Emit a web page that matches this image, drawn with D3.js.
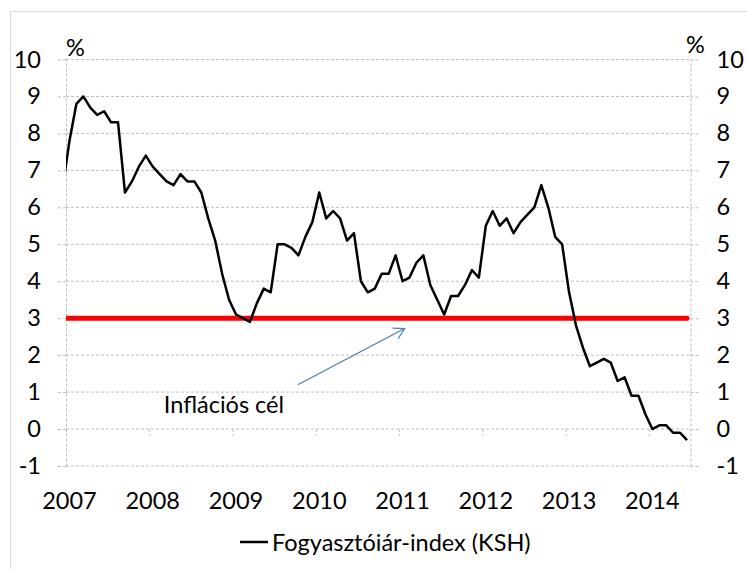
<!DOCTYPE html>
<html><head><meta charset="utf-8">
<script src="https://cdn.jsdelivr.net/npm/d3@7"></script>
<style>
body{margin:0;background:#fff}
svg{display:block}
text{font-family:Lato,"Open Sans",sans-serif;fill:#000}
</style>
</head><body>
<svg id="c" width="747" height="569"></svg>
<script>
// Monthly CPI, annual % change (KSH), Dec 2006 .. Jun 2014
const cpi = [6.5,
  7.8, 8.8, 9.0, 8.7, 8.5, 8.6, 8.3, 8.3, 6.4, 6.7, 7.1, 7.4,
  7.1, 6.9, 6.7, 6.6, 6.9, 6.7, 6.7, 6.4, 5.7, 5.1, 4.2, 3.5,
  3.1, 3.0, 2.9, 3.4, 3.8, 3.7, 5.0, 5.0, 4.9, 4.7, 5.2, 5.6,
  6.4, 5.7, 5.9, 5.7, 5.1, 5.3, 4.0, 3.7, 3.8, 4.2, 4.2, 4.7,
  4.0, 4.1, 4.5, 4.7, 3.9, 3.5, 3.1, 3.6, 3.6, 3.9, 4.3, 4.1,
  5.5, 5.9, 5.5, 5.7, 5.3, 5.6, 5.8, 6.0, 6.6, 6.0, 5.2, 5.0,
  3.7, 2.8, 2.2, 1.7, 1.8, 1.9, 1.8, 1.3, 1.4, 0.9, 0.9, 0.4,
  0.0, 0.1, 0.1, -0.1, -0.1, -0.3];
const firstMonthOffset = -1;          // Dec 2006 relative to Jan 2007
const target = 3;                      // inflation target
const years = [2007, 2008, 2009, 2010, 2011, 2012, 2013, 2014];
const yTicks = [-1, 0, 1, 2, 3, 4, 5, 6, 7, 8, 9, 10];
const seriesName = "Fogyasztóiár-index (KSH)";
const annotationText = "Inflációs cél";
const unitLabel = "%";

const svg = d3.select("#c");
const L = 66, R = 690.5, T = 59.5, B = 466;
const x = d3.scaleLinear().domain([0, 90]).range([L, R]);
const y = d3.scaleLinear().domain([-1, 10]).range([B, T]);
const grid = "#bfbfbf", dash = "3,2", fs = 23.5;

// outer frame
svg.append("rect").attr("x", 10.5).attr("y", 11.5).attr("width", 800).attr("height", 600)
  .attr("fill", "none").attr("stroke", "#d9d9d9");

svg.append("defs").append("clipPath").attr("id", "pc")
  .append("rect").attr("x", L).attr("y", 0).attr("width", R - L).attr("height", 569);

// gridlines
svg.append("g").selectAll("line").data(yTicks).join("line")
  .attr("x1", L).attr("x2", R).attr("y1", d => y(d)).attr("y2", d => y(d))
  .attr("stroke", grid).attr("stroke-dasharray", dash);

function styleAxis(g) {
  g.selectAll("path,line").attr("stroke", grid).attr("stroke-dasharray", dash);
  g.selectAll("text").style("font-size", fs + "px").attr("fill", "#000")
    .style("font-family", "Lato,'Open Sans',sans-serif");
}
const fmt = d => String(d);
svg.append("g").attr("transform", `translate(${L},0)`)
  .call(d3.axisLeft(y).tickValues(yTicks).tickSize(9).tickSizeOuter(0).tickPadding(16).tickFormat(fmt))
  .call(styleAxis);
svg.append("g").attr("transform", `translate(${R},0)`)
  .call(d3.axisRight(y).tickValues(yTicks).tickSize(8).tickSizeOuter(0).tickPadding(18).tickFormat(fmt))
  .call(styleAxis);

// x axis ticks on the zero line
const xg = svg.append("g").attr("transform", `translate(0,${y(0)})`)
  .call(d3.axisBottom(x).tickValues(years.map((d, i) => i * 12)).tickSize(7).tickSizeOuter(0).tickFormat(""))
  .call(styleAxis);
xg.select(".domain").remove();

svg.append("g").selectAll("text").data(years).join("text")
  .attr("x", (d, i) => x(i * 12 + 0.5)).attr("y", 509)
  .attr("text-anchor", "middle").style("font-size", fs + "px").text(d => d);

// unit labels
svg.append("text").attr("x", 66).attr("y", 56).style("font-size", fs + "px").text(unitLabel);
svg.append("text").attr("x", 686).attr("y", 53).style("font-size", fs + "px").text(unitLabel);

// target line
const idx = cpi.map((d, i) => i + firstMonthOffset + 0.5);
svg.append("line").attr("clip-path", "url(#pc)")
  .attr("x1", x(idx[0])).attr("x2", x(idx[idx.length - 1]))
  .attr("y1", y(target)).attr("y2", y(target))
  .attr("stroke", "#ff0000").attr("stroke-width", 5).attr("stroke-linecap", "round");

// CPI line
const line = d3.line().x((d, i) => x(idx[i])).y(d => y(d));
svg.append("path").datum(cpi).attr("clip-path", "url(#pc)")
  .attr("d", line).attr("fill", "none").attr("stroke", "#000")
  .attr("stroke-width", 2.5).attr("stroke-linejoin", "round");

// annotation (data units: month index, value)
const arrowFrom = [33.4, 1.2], arrowTo = [48.8, 2.72], textAt = [14.1, 0.43];
const ax1 = x(arrowFrom[0]), ay1 = y(arrowFrom[1]), ax2 = x(arrowTo[0]), ay2 = y(arrowTo[1]);
const ang = Math.atan2(ay2 - ay1, ax2 - ax1), al = 12, aw = Math.PI / 6;
const blue = "#4a7ebb";
svg.append("line").attr("x1", ax1).attr("y1", ay1).attr("x2", ax2).attr("y2", ay2)
  .attr("stroke", blue).attr("stroke-width", 1.2);
svg.append("path").attr("fill", "none").attr("stroke", blue).attr("stroke-width", 1.2)
  .attr("d", `M${ax2 - al * Math.cos(ang - aw)},${ay2 - al * Math.sin(ang - aw)}L${ax2},${ay2}L${ax2 - al * Math.cos(ang + aw)},${ay2 - al * Math.sin(ang + aw)}`);
svg.append("text").attr("x", x(textAt[0])).attr("y", y(textAt[1]))
  .style("font-size", fs + "px").text(annotationText);

// legend
svg.append("line").attr("x1", 240).attr("x2", 268).attr("y1", 542).attr("y2", 542)
  .attr("stroke", "#000").attr("stroke-width", 2.5);
svg.append("text").attr("x", 272).attr("y", 551).style("font-size", fs + "px").text(seriesName);
</script>
</body></html>
